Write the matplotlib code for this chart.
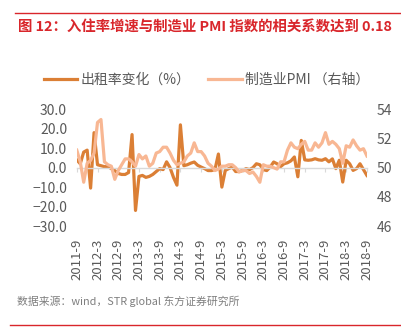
import numpy as np
import matplotlib
matplotlib.use("Agg")
import matplotlib.pyplot as plt

plt.rcParams['font.family'] = ['Noto Sans CJK SC', 'DejaVu Sans']
plt.rcParams['axes.unicode_minus'] = True

# 月度数据：2011-9 至 2018-9
occ_change = [4, 2, 8, 9, -10.5, 18, 1.5, 1, 0.5, 0.5, -0.5, -1.5,
              -3, -3.5, -3.5, -2.5, 17, -22, -4.5, -4, -5, -4.5, -3.5, -2,
              -0.5, -1, 3, 0, -5, -9, 22, 1, 1.5, 2.3, 2.9, 1.2,
              0.3, -0.5, -1.5, -1.5, -1, 7, -10, -1.4, -0.5, 0.3, -2, -2,
              -1.5, -0.5, -1, 0, 2, 1.5, -1, -1.5, 0.3, 2.9, 2, 0.5,
              2, 2.5, 3.5, 5.5, -4.7, 14, 4, 3.8, 4, 4.6, 4, 3.8,
              4.6, 3, 4.5, -0.5, 3.8, -7.4, 3.8, 2, -1.4, -0.5, 2, -1,
              -4]
pmi = [51.2, 50.4, 49.0, 50.3,
       50.5, 51.0, 53.1, 53.3, 50.4, 50.2, 50.1, 49.2, 49.8, 50.2, 50.6, 50.6,
       50.4, 50.1, 50.9, 50.6, 50.8, 50.1, 50.3, 51.0, 51.1, 51.4, 51.4, 51.0,
       50.5, 50.2, 50.3, 50.4, 50.8, 51.0, 51.7, 51.1, 51.1, 50.8, 50.3, 50.1,
       49.8, 49.9, 50.1, 50.1, 50.2, 50.2, 50.0, 49.7, 49.8, 49.8, 49.6, 49.7,
       49.4, 49.0, 50.2, 50.1, 50.1, 50.0, 49.9, 50.4, 50.4, 51.2, 51.7, 51.4,
       51.3, 51.6, 51.8, 51.2, 51.2, 51.7, 51.4, 51.7, 52.4, 51.6, 51.8, 51.6,
       51.3, 50.3, 51.5, 51.4, 51.9, 51.5, 51.2, 51.3, 50.8]
tick_labels = ['2011-9', '2012-3', '2012-9', '2013-3', '2013-9', '2014-3',
               '2014-9', '2015-3', '2015-9', '2016-3', '2016-9', '2017-3',
               '2017-9', '2018-3', '2018-9']

dark = '#DB7F35'
light = '#F8B793'
gray = '#595959'
red = '#D9262B'

x = np.arange(len(occ_change))

fig = plt.figure(figsize=(4.01, 3.33), dpi=100)
ax = fig.add_axes([0.1915, 0.3213, 0.7235, 0.3505])
ax2 = ax.twinx()

l1, = ax.plot(x, occ_change, color=dark, lw=2.3, solid_joinstyle='round')
l2, = ax2.plot(x, pmi, color=light, lw=2.3, solid_joinstyle='round')

ax.set_xlim(0, 84)
ax.set_ylim(-30, 30)
ax.set_yticks(np.arange(-30, 31, 10))
ax.set_yticklabels([f'{v:.1f}'.replace('-', '\u2212') for v in np.arange(-30, 31, 10)])
ax2.set_ylim(46, 54)
ax2.set_yticks(np.arange(46, 55, 2))

# 横轴画在 0 刻度处，标签下移到图底
for s in ['top', 'right', 'left']:
    ax.spines[s].set_visible(False)
    ax2.spines[s].set_visible(False)
ax2.spines['bottom'].set_visible(False)
ax.spines['bottom'].set_position(('data', 0))
ax.spines['bottom'].set_color('#D9D9D9')
ax.spines['bottom'].set_linewidth(1)
ax.set_xticks(np.arange(0, 85, 6))
ax.set_xticklabels(tick_labels, rotation=90)
ax.tick_params(axis='x', length=3, color='#D9D9D9', pad=48, labelsize=9.5, labelcolor=gray)
ax.tick_params(axis='y', length=0, pad=7, labelsize=10, labelcolor=gray)
ax2.tick_params(axis='y', length=0, pad=7, labelsize=10, labelcolor=gray)

fig.legend([l1, l2], ['出租率变化（%）', '制造业PMI （右轴）'], loc='center',
           bbox_to_anchor=(0.515, 0.76), ncol=2, frameon=False, fontsize=10,
           labelcolor=gray, handlelength=2.4, handletextpad=0.25, columnspacing=1.3)

fig.text(0.045, 0.92, '图 12：入住率增速与制造业 PMI 指数的相关系数达到 0.18',
         color=red, fontsize=10.4, fontweight='bold', va='center')
fig.text(0.042, 0.094, '数据来源：wind，STR global 东方证券研究所',
         color='#7F7F7F', fontsize=7.8, va='center')
fig.add_artist(plt.Line2D([0.037, 1], [0.961, 0.961], color=red, lw=1))
fig.add_artist(plt.Line2D([0.025, 1], [0.024, 0.024], color=red, lw=1))

fig.savefig('out.png', dpi=100)
